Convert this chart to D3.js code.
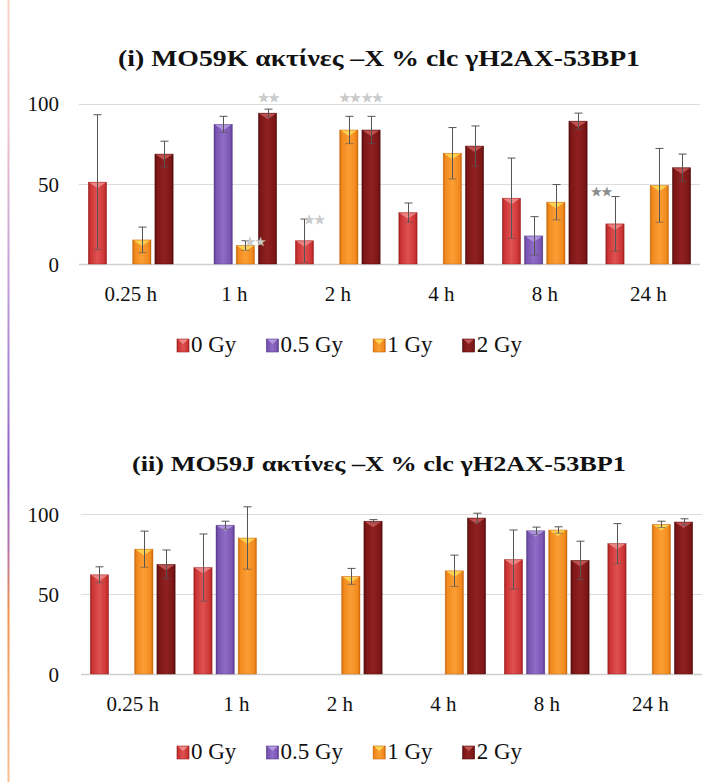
<!DOCTYPE html>
<html>
<head>
<meta charset="utf-8">
<script src="https://cdn.jsdelivr.net/npm/d3@7"></script>
<style>
  html, body { margin: 0; padding: 0; background: #fff; }
  svg { display: block; }
</style>
</head>
<body>
<svg id="chart" width="712" height="782"></svg>
<script>
// ---- categories ----
const times = ["0.25 h", "1 h", "2 h", "4 h", "8 h", "24 h"];
const doses = ["0 Gy", "0.5 Gy", "1 Gy", "2 Gy"];
const yTicks = [0, 50, 100];

// ---- MO59K: mean % and error per dose (null = not measured) ----
const k0Gy   = [51, null, 14.5, 32, 41, 25];
const k05Gy  = [null, 87, null, null, 17.5, null];
const k1Gy   = [15, 11.5, 83.5, 69, 38.5, 49];
const k2Gy   = [68.5, 94, 83.5, 73.5, 89, 60];
const k0GyErr  = [42, null, 13.5, 6, 25, 17];
const k05GyErr = [null, 5, null, null, 12, null];
const k1GyErr  = [8, 3, 8.5, 16, 11, 23];
const k2GyErr  = [8, 2.5, 8.5, 12.5, 5, 8.5];

// ---- MO59J ----
const j0Gy   = [62, 66.5, null, null, 71.5, 81.5];
const j05Gy  = [null, 93, null, null, 89.5, null];
const j1Gy   = [78, 85, 61, 64.5, 90, 93.5];
const j2Gy   = [68.5, null, 95.5, 97.5, 71, 95];
const j0GyErr  = [5, 21, null, null, 18.5, 12.5];
const j05GyErr = [null, 2.5, null, null, 2.3, null];
const j1GyErr  = [11.3, 19.5, 5, 9.8, 2, 2];
const j2GyErr  = [9, null, 1, 3, 12, 2];

// ---- significance marks (MO59K) ----
const sigK = [
  { time: "1 h",  dose: "1 Gy", text: "★★", place: "right" },
  { time: "1 h",  dose: "2 Gy", text: "★★", place: "above" },
  { time: "2 h",  dose: "0 Gy", text: "★★", place: "right" },
  { time: "2 h",  dose: "1 Gy", text: "★★", place: "above" },
  { time: "2 h",  dose: "2 Gy", text: "★★", place: "above" },
  { time: "24 h", dose: "0 Gy", text: "★★", place: "left", dark: true }
];

const titles = [
  "(i) MO59K ακτίνες –X  % clc γH2AX-53BP1",
  "(ii) MO59J ακτίνες –X  % clc γH2AX-53BP1"
];

// ---- styling ----
const serif = "'Liberation Serif', 'Times New Roman', serif";
const palette = [
  { base: "#cd3434", edge: "#9e1f1f", light: "#df5252", tip: "#ec8a8a" },   // 0 Gy
  { base: "#7a55b3", edge: "#563a8c", light: "#8f6cc6", tip: "#b49be0" },   // 0.5 Gy
  { base: "#f28a1d", edge: "#c9660a", light: "#fa9e35", tip: "#fcd857" },   // 1 Gy
  { base: "#7d1717", edge: "#560c0c", light: "#8f2020", tip: "#c45656" }    // 2 Gy
];

const panels = [
  {
    title: titles[0],
    means: [k0Gy, k05Gy, k1Gy, k2Gy],
    errs: [k0GyErr, k05GyErr, k1GyErr, k2GyErr],
    notes: sigK,
    L: { titleY: 66, titleSize: 23, titleW: 522, top: 103.5, bottom: 264, left: 79, right: 700,
         xLabelY: 301, legendY: 345 }
  },
  {
    title: titles[1],
    means: [j0Gy, j05Gy, j1Gy, j2Gy],
    errs: [j0GyErr, j05GyErr, j1GyErr, j2GyErr],
    notes: [],
    L: { titleY: 471, titleSize: 22, titleW: 494, top: 514, bottom: 674, left: 81, right: 702,
         xLabelY: 710.5, legendY: 752 }
  }
];

const svg = d3.select("#chart");
const defs = svg.append("defs");

// horizontal shading for each series (rounded-bar look)
palette.forEach((p, i) => {
  const g = defs.append("linearGradient").attr("id", "bar" + i)
    .attr("x1", 0).attr("x2", 1).attr("y1", 0).attr("y2", 0);
  [[0, p.edge], [0.12, p.base], [0.5, p.light], [0.88, p.base], [1, p.edge]]
    .forEach(([o, c]) => g.append("stop").attr("offset", o).attr("stop-color", c));
});

// frame line on the left edge
const fg = defs.append("linearGradient").attr("id", "frame")
  .attr("gradientUnits", "userSpaceOnUse").attr("x1", 0).attr("x2", 0).attr("y1", 0).attr("y2", 782);
[[0, "#f6d4c4"], [0.15, "#eec6cc"], [0.35, "#c4a0d8"], [0.5, "#a47ed0"], [0.6, "#8a5cc8"],
 [0.7, "#b574a8"], [0.78, "#f0924c"], [1, "#f8bf94"]]
  .forEach(([o, c]) => fg.append("stop").attr("offset", o).attr("stop-color", c));
svg.append("line").attr("x1", 8.5).attr("x2", 8.5).attr("y1", 0).attr("y2", 782)
  .attr("stroke", "url(#frame)").attr("stroke-width", 2);

function drawPanel(P) {
  const L = P.L;
  const g = svg.append("g");

  const x = d3.scaleBand().domain(times).range([L.left, L.right]).padding(0);
  const xi = d3.scaleBand().domain(doses).range([0, x.bandwidth()])
    .paddingInner(0.176).paddingOuter(0.42);
  const y = d3.scaleLinear().domain([0, 100]).range([L.bottom, L.top]);

  // title (wide book-style serif, so the run is stretched to its width)
  g.append("text").attr("x", 379).attr("y", L.titleY)
    .attr("text-anchor", "middle").attr("font-family", serif).attr("font-weight", "bold")
    .attr("font-size", L.titleSize).attr("fill", "#111")
    .attr("textLength", L.titleW).attr("lengthAdjust", "spacingAndGlyphs")
    .text(P.title);

  // gridlines
  g.append("g").selectAll("line").data(yTicks).join("line")
    .attr("x1", L.left).attr("x2", L.right)
    .attr("y1", d => Math.round(y(d)) + 0.5).attr("y2", d => Math.round(y(d)) + 0.5)
    .attr("stroke", d => d === 0 ? "#cfcfcf" : "#dcdcdc").attr("stroke-width", d => d === 0 ? 1.5 : 1);

  // y axis labels
  const yAxis = d3.axisLeft(y).tickValues(yTicks).tickSize(0).tickPadding(0);
  const ya = g.append("g").attr("transform", `translate(${59},0)`).call(yAxis);
  ya.select(".domain").remove();
  ya.selectAll("text").attr("font-family", serif).attr("font-size", 21).attr("fill", "#111")
    .attr("dy", "0.35em");

  // x axis labels
  const xAxis = d3.axisBottom(x).tickSize(0).tickPadding(0);
  const xa = g.append("g").attr("transform", `translate(0,${L.xLabelY})`).call(xAxis);
  xa.select(".domain").remove();
  xa.selectAll("text").attr("font-family", serif).attr("font-size", 21).attr("fill", "#111")
    .attr("dy", 0);

  // bars
  const rows = [];
  doses.forEach((d, si) => times.forEach((tm, ti) => {
    const v = P.means[si][ti];
    if (v != null) rows.push({ dose: d, si, time: tm, v, e: P.errs[si][ti] });
  }));
  const bx = r => x(r.time) + xi(r.dose);
  const bw = xi.bandwidth();

  const bars = g.append("g").selectAll("g").data(rows).join("g");
  bars.append("rect")
    .attr("x", r => bx(r)).attr("y", r => y(r.v))
    .attr("width", bw).attr("height", r => y(0) - y(r.v))
    .attr("fill", r => `url(#bar${r.si})`)
    .attr("stroke", r => palette[r.si].edge).attr("stroke-width", 0.6).attr("stroke-opacity", 0.7);
  // bevel highlight on the top face
  bars.append("path")
    .attr("d", r => {
      const x0 = bx(r), y0 = y(r.v);
      return `M${x0 + 1},${y0 + 0.5} L${x0 + bw - 1},${y0 + 0.5} L${x0 + bw / 2},${y0 + 6} Z`;
    })
    .attr("fill", r => palette[r.si].tip).attr("opacity", 0.9);

  // error bars
  const eb = g.append("g").attr("stroke", "#555").attr("stroke-width", 1).attr("fill", "none");
  rows.filter(r => r.e != null).forEach(r => {
    const cx = Math.round(bx(r) + bw / 2) + 0.5;
    const y1 = y(r.v + r.e), y2 = y(Math.max(0, r.v - r.e));
    eb.append("line").attr("x1", cx).attr("x2", cx).attr("y1", y1).attr("y2", y2);
    eb.append("line").attr("x1", cx - 4).attr("x2", cx + 4).attr("y1", y1).attr("y2", y1);
    eb.append("line").attr("x1", cx - 4).attr("x2", cx + 4).attr("y1", y2).attr("y2", y2)
      .attr("stroke-opacity", 0.6);
  });

  // significance stars
  P.notes.forEach(n => {
    const si = doses.indexOf(n.dose), ti = times.indexOf(n.time);
    const v = P.means[si][ti], e = P.errs[si][ti] || 0;
    const cx = x(n.time) + xi(n.dose) + bw / 2;
    let tx, ty, anchor;
    if (n.place === "above") { tx = cx + 1; ty = y(103.8); anchor = "middle"; }
    else if (n.place === "right") { tx = cx - 1; ty = y(v + e) + 1; anchor = "start"; }
    else { tx = cx - 3; ty = y(v + e) - 5; anchor = "end"; }
    g.append("text").attr("x", tx).attr("y", ty).attr("dy", "0.35em")
      .attr("text-anchor", anchor).attr("font-family", "'DejaVu Sans', sans-serif")
      .attr("font-size", 12.5).attr("letter-spacing", -0.6)
      .attr("fill", n.dark ? "#8a8a8a" : "#cbcbcb")
      .attr("stroke", n.dark ? "#777" : "#b3b3b3").attr("stroke-width", 0.3)
      .text(n.text);
  });

  // legend, spread across its row
  const lg = g.append("g");
  const legL = 177, legR = 522;
  const items = doses.map((d, i) => {
    const it = lg.append("g");
    it.append("rect").attr("x", 0).attr("y", -6).attr("width", 12).attr("height", 13)
      .attr("fill", `url(#bar${i})`).attr("stroke", palette[i].edge).attr("stroke-width", 0.6);
    it.append("path").attr("d", "M1,-5.5 L11,-5.5 L6,-1 Z").attr("fill", palette[i].tip);
    const tx = it.append("text").attr("x", 14).attr("y", 7).attr("font-family", serif)
      .attr("font-size", 23).attr("fill", "#111").text(d);
    return { it, w: 14 + tx.node().getComputedTextLength() };
  });
  const gap = (legR - legL - d3.sum(items, d => d.w)) / (items.length - 1);
  let cursor = legL;
  items.forEach(o => {
    o.it.attr("transform", `translate(${cursor},${L.legendY})`);
    cursor += o.w + gap;
  });
}

panels.forEach(drawPanel);
</script>
</body>
</html>
